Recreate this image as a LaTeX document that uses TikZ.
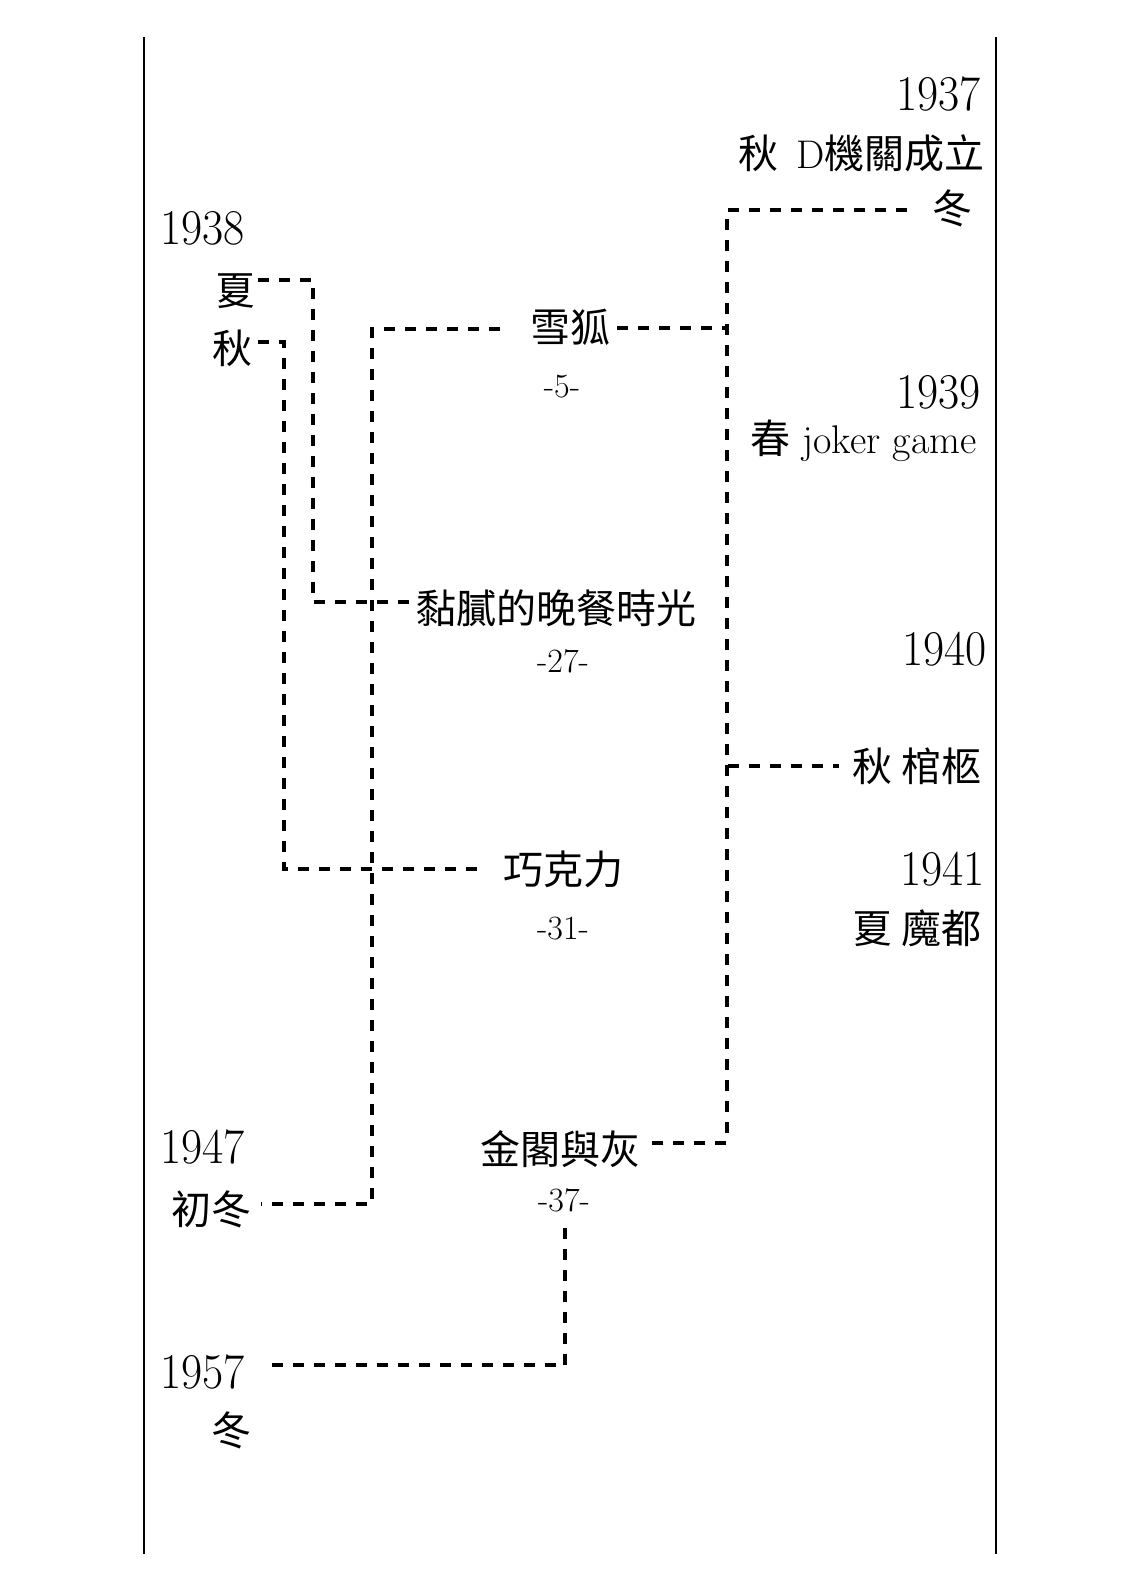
\documentclass[tikz,border=0pt]{standalone}
\usepackage{fontspec}
\usepackage{graphicx}
\newfontfamily\cjk{Noto Sans CJK TC}
\tikzset{
  yr/.style={font=\fontsize{25}{29}\selectfont, inner sep=0pt},
  cj/.style={font=\cjk\fontsize{20}{24}\selectfont, inner sep=0pt},
  mx/.style={font=\fontsize{20}{24}\selectfont, inner sep=0pt},
  pg/.style={font=\fontsize{17}{20}\selectfont, inner sep=0pt},
  dl/.style={line width=2pt, dash pattern=on 5.5pt off 5pt},
  frame/.style={line width=1.2pt}
}
\newcommand{\yrtxt}[1]{\scalebox{0.92}[1]{#1}}
\begin{document}
\begin{tikzpicture}[x=0.5pt,y=-0.5pt]
\useasboundingbox (0,0) rectangle (1147,1590);
% frame lines
\coordinate (lt) at (144,37);
\coordinate (lb) at (144,1554);
\coordinate (rt) at (996,37);
\coordinate (rb) at (996,1554);
\draw[frame] (lt) -- (lb);
\draw[frame] (rt) -- (rb);

% right column
\node[yr, anchor=base east] (y1937) at (981,110) {\yrtxt{1937}};
\node[mx, anchor=base east] (dfound) at (985,168) {{\cjk 秋}\hspace{0.45em}D{\cjk 機關成立}};
\node[cj, anchor=base] (dongA) at (952,223) {冬};
\node[yr, anchor=base east] (y1939) at (981,408) {\yrtxt{1939}};
\node[mx, anchor=base east] (joker) at (977,453) {{\cjk 春} joker game};
\node[yr, anchor=base east] (y1940) at (987,665) {\yrtxt{1940}};
\node[cj, anchor=base east] (guanjiu) at (982,781) {秋 棺柩};
\node[yr, anchor=base east] (y1941) at (985,885) {\yrtxt{1941}};
\node[cj, anchor=base east] (modu) at (982,943) {夏 魔都};

% left column
\node[yr, anchor=base west] (y1938) at (160,244) {\yrtxt{1938}};
\node[cj, anchor=base] (xia) at (235,305) {夏};
\node[cj, anchor=base] (qiu) at (232,363) {秋};
\node[yr, anchor=base west] (y1947) at (160,1163) {\yrtxt{1947}};
\node[cj, anchor=base] (chudong) at (211,1224) {初冬};
\node[yr, anchor=base west] (y1957) at (160,1388) {\yrtxt{1957}};
\node[cj, anchor=base] (dongB) at (231,1445) {冬};

% middle column
\node[cj, anchor=base] (xuehu) at (570,342) {雪狐};
\node[pg, anchor=base] (p5) at (562,397) {-5-};
\node[cj, anchor=base] (nini) at (556,623) {黏膩的晚餐時光};
\node[pg, anchor=base] (p27) at (563,672) {-27-};
\node[cj, anchor=base] (qiaokeli) at (563,884) {巧克力};
\node[pg, anchor=base] (p31) at (563,939) {-31-};
\node[cj, anchor=base] (jinge) at (560,1164) {金閣與灰};
\node[pg, anchor=base] (p37) at (564,1211) {-37-};

% corner columns
\coordinate (vA) at (727,0);
\coordinate (vD) at (372,0);
\coordinate (vE) at (313,0);
\coordinate (vF) at (284,0);
\coordinate (vG) at (565,0);

% connectors
\draw[dl] ([xshift=-12.5pt,yshift=-1pt]dongA.west) -| ([yshift=3pt]vA |- jinge.east) -- ([xshift=4pt,yshift=3pt]jinge.east);
\draw[dl] ([xshift=3.5pt,yshift=-0.5pt]xuehu.east) -- ([yshift=-0.5pt]vA |- xuehu.east);
\draw[dl] ([xshift=0.5pt]vA |- guanjiu.west) -- ([xshift=-6.5pt]guanjiu.west);
\draw[dl] ([xshift=-15pt,yshift=-1pt]xuehu.west) -| ([yshift=2.5pt]vD |- chudong.east) -- ([xshift=5pt,yshift=2.5pt]chudong.east);
\draw[dl] ([xshift=1.5pt,yshift=5.5pt]xia.east) -| ([yshift=3pt]vE |- nini.west) -- ([xshift=-1.5pt,yshift=3pt]nini.west);
\draw[dl] ([xshift=3pt,yshift=3pt]qiu.east) -| (vF |- qiaokeli.west) -- ([xshift=-12.5pt]qiaokeli.west);
\draw[dl] ([yshift=-8pt]vG |- p37.south) |- ([xshift=10pt,yshift=3pt]y1957.east);
\end{tikzpicture}
\end{document}
